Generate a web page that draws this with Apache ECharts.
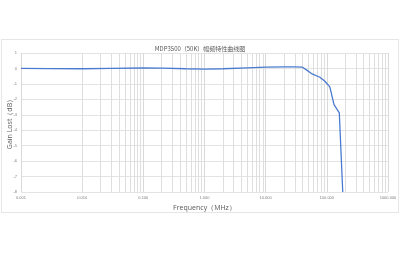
<!DOCTYPE html>
<html><head><meta charset="utf-8">
<script src="https://cdn.jsdelivr.net/npm/echarts@6/dist/echarts.min.js"></script>
<style>
html,body{margin:0;padding:0;background:#fff;}
#box{position:absolute;left:1px;top:39px;width:398px;height:174px;border:1px solid #e6e6e6;box-sizing:border-box;}
#c{position:absolute;left:0;top:0;width:400px;height:253px;}
</style></head>
<body><div id="box"></div><div id="c"></div>
<script>
const titleText = 'MDP3500（50K）幅频特性曲线图';
const xName = 'Frequency（MHz）';
const yName = 'Gain Lost（dB）';
const freqMHz = [0.001, 0.003, 0.01, 0.03, 0.1, 0.2, 0.5, 1, 2, 5, 10, 20, 30, 40, 47, 56, 77, 93, 112, 131, 160, 168, 182];
const gainDb  = [0.0, -0.01, -0.02, 0.0, 0.03, 0.02, -0.02, -0.04, -0.02, 0.04, 0.08, 0.1, 0.1, 0.08, -0.11, -0.33, -0.57, -0.83, -1.19, -2.34, -2.88, -2.9, -8];
const minorMultipliers = [2, 3, 4, 5, 6, 7, 8, 9];
const decades = [0.001, 0.01, 0.1, 1, 10, 100];

const minorLines = [];
decades.forEach(d => minorMultipliers.forEach(m => minorLines.push({xAxis: +(d * m).toPrecision(3)})));

const chart = echarts.init(document.getElementById('c'));
chart.setOption({
  animation: false,
  title: {text: titleText, left: 'center', top: 41, textStyle: {fontSize: 6, fontWeight: 'normal', color: '#595959', fontFamily: 'Noto Sans CJK SC'}},
  grid: {left: 21, right: 12, top: 53, bottom: 61, containLabel: false, outerBoundsMode: 'none'},
  xAxis: {
    type: 'log', logBase: 10, min: 0.001, max: 1000,
    name: xName, nameLocation: 'middle', nameGap: 12,
    nameTextStyle: {fontSize: 7, color: '#595959', fontFamily: 'Open Sans'},
    axisLine: {show: false}, axisTick: {show: false},
    axisLabel: {fontSize: 4, color: '#7f7f7f', margin: 4, formatter: v => v.toFixed(3)},
    splitLine: {show: true, lineStyle: {color: '#d9d9d9', width: 1}}
  },
  yAxis: {
    type: 'value', min: -8, max: 1, interval: 1,
    name: yName, nameLocation: 'middle', nameGap: 11, nameRotate: 90, nameMoveOverlap: false,
    nameTextStyle: {fontSize: 7, color: '#595959', fontFamily: 'Open Sans', verticalAlign: 'middle'},
    axisLine: {show: false}, axisTick: {show: false},
    axisLabel: {fontSize: 4, color: '#7f7f7f', margin: 4},
    splitLine: {show: true, lineStyle: {color: '#e3e3e3', width: 1}}
  },
  series: [{
    type: 'line',
    data: freqMHz.map((f, i) => [f, gainDb[i]]),
    showSymbol: false, symbol: 'none',
    lineStyle: {color: '#4a7bd0', width: 1.3},
    clip: true,
    markLine: {
      silent: true, symbol: 'none', label: {show: false},
      lineStyle: {color: '#dedede', width: 1, type: 'solid'},
      data: minorLines, z: 1
    }
  }]
});
</script></body></html>
